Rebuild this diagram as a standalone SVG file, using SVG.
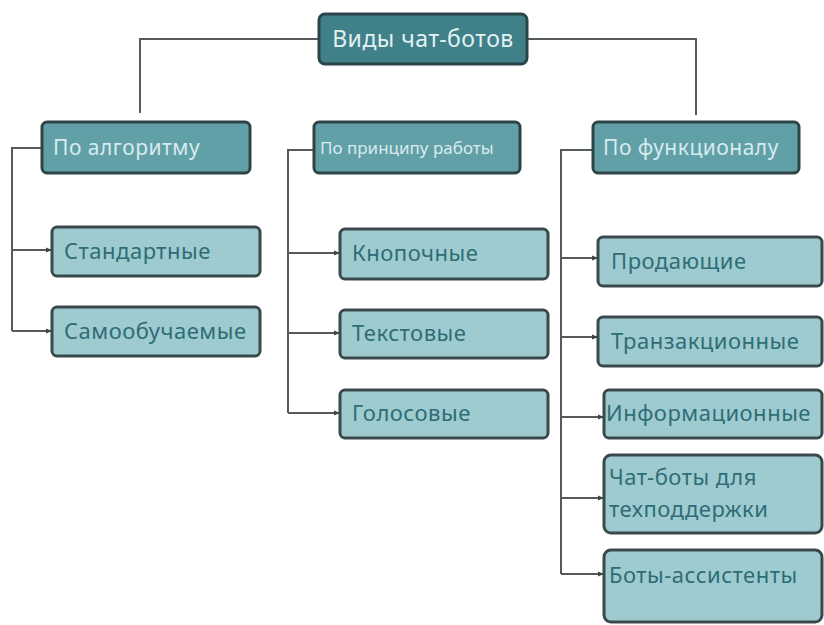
<svg xmlns="http://www.w3.org/2000/svg" width="824" height="625" viewBox="0 0 824 625">
<style>
.top{fill:#3f8089;stroke:#2b4449;stroke-width:3}
.mid{fill:#62a0a8;stroke:#2f4447;stroke-width:3}
.leaf{fill:#9ecbcf;stroke:#3a4a4c;stroke-width:3}
.t{font-family:"Noto Sans","Liberation Sans",sans-serif;letter-spacing:0.5px}
.tt{fill:#e2f1f2;font-size:23px}
.mt{fill:#d7ecee;font-size:21px}
.lt{fill:#2e6d76;font-size:22px}
.c{fill:none;stroke:#555b5c;stroke-width:2}
</style>
<defs>
<marker id="ah" markerWidth="6" markerHeight="6" refX="5" refY="3" orient="auto" markerUnits="userSpaceOnUse">
<path d="M0,0.5 L6,3 L0,5.5 Z" fill="#3a4445"/>
</marker>
</defs>
<rect width="824" height="625" fill="#ffffff"/>
<g id="connectors">
<path class="c" d="M318,39 H140 V113"/>
<path class="c" d="M527,39 H696 V115"/>
<path class="c" d="M42,148 H12 V331"/>
<path class="c" d="M12,250 H51" marker-end="url(#ah)"/>
<path class="c" d="M12,331 H51" marker-end="url(#ah)"/>
<path class="c" d="M314,150 H288 V413"/>
<path class="c" d="M288,253 H339" marker-end="url(#ah)"/>
<path class="c" d="M288,333 H339" marker-end="url(#ah)"/>
<path class="c" d="M288,413 H339" marker-end="url(#ah)"/>
<path class="c" d="M593,150 H561 V574"/>
<path class="c" d="M561,258 H597" marker-end="url(#ah)"/>
<path class="c" d="M561,337 H597" marker-end="url(#ah)"/>
<path class="c" d="M561,417 H603" marker-end="url(#ah)"/>
<path class="c" d="M561,498 H603" marker-end="url(#ah)"/>
<path class="c" d="M561,574 H603" marker-end="url(#ah)"/>
</g>
<g id="root">
<rect class="top" x="319" y="14" width="208" height="50" rx="6"/>
<text class="t tt" x="423" y="47" text-anchor="middle">Виды чат-ботов</text>
</g>
<g id="algo">
<rect class="mid" x="42" y="122" width="208" height="51" rx="5"/>
<text class="t mt" x="53" y="155">По алгоритму</text>
</g>
<g id="princip">
<rect class="mid" x="314" y="122" width="206" height="51" rx="5"/>
<text class="t mt" x="320" y="154" style="font-size:17px;letter-spacing:0">По принципу работы</text>
</g>
<g id="func">
<rect class="mid" x="593" y="122" width="206" height="51" rx="5"/>
<text class="t mt" x="603" y="155">По функционалу</text>
</g>
<g id="std">
<rect class="leaf" x="52" y="227" width="208" height="49" rx="5"/>
<text class="t lt" x="64" y="259">Стандартные</text>
</g>
<g id="self">
<rect class="leaf" x="52" y="307" width="208" height="49" rx="5"/>
<text class="t lt" x="64" y="339">Самообучаемые</text>
</g>
<g id="btn">
<rect class="leaf" x="340" y="229" width="208" height="50" rx="5"/>
<text class="t lt" x="352" y="261">Кнопочные</text>
</g>
<g id="text">
<rect class="leaf" x="340" y="310" width="208" height="48" rx="5"/>
<text class="t lt" x="352" y="341">Текстовые</text>
</g>
<g id="voice">
<rect class="leaf" x="340" y="390" width="208" height="48" rx="5"/>
<text class="t lt" x="352" y="421">Голосовые</text>
</g>
<g id="sell">
<rect class="leaf" x="598" y="237" width="224" height="49" rx="5"/>
<text class="t lt" x="611" y="269">Продающие</text>
</g>
<g id="trans">
<rect class="leaf" x="598" y="317" width="224" height="49" rx="5"/>
<text class="t lt" x="611" y="349">Транзакционные</text>
</g>
<g id="info">
<rect class="leaf" x="604" y="390" width="218" height="48" rx="5"/>
<text class="t lt" x="606" y="421">Информационные</text>
</g>
<g id="support">
<rect class="leaf" x="604" y="455" width="218" height="78" rx="7"/>
<text class="t lt" x="609" y="485">Чат-боты для</text>
<text class="t lt" x="609" y="517">техподдержки</text>
</g>
<g id="assist">
<rect class="leaf" x="604" y="550" width="218" height="72" rx="7"/>
<text class="t lt" x="609" y="583">Боты-ассистенты</text>
</g>
</svg>
